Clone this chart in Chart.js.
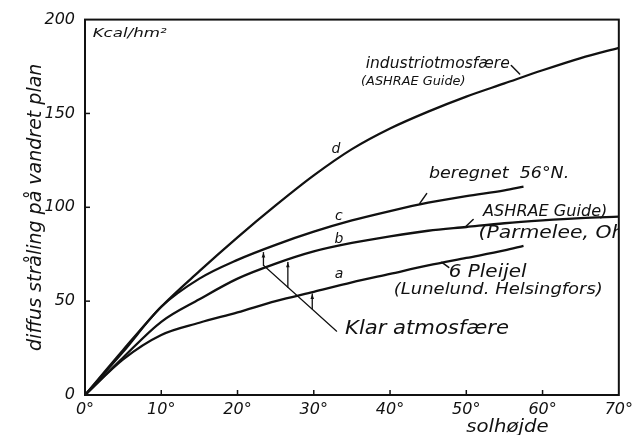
<!DOCTYPE html>
<html>
<head>
<meta charset="utf-8">
<script src="https://cdn.jsdelivr.net/npm/chart.js@4/dist/chart.umd.min.js"></script>
<style>
  html, body { margin: 0; padding: 0; background: #fff; }
  #wrap { width: 638px; height: 435px; position: relative; }
</style>
</head>
<body>
<div id="wrap"><canvas id="c"></canvas></div>
<script>
// ---- data ----
const solhoejde      = [0, 5, 10, 15, 20, 25, 30, 35, 40, 45, 50, 55, 60, 65, 70];
const solhoejdeKort  = [0, 5, 10, 15, 20, 25, 30, 35, 40, 45, 50, 55, 57.5];
const kurveD = [0, 24, 47, 66, 84, 101, 117, 131, 142, 151, 159, 166, 173, 179.5, 185]; // industriatmosfære
const kurveC = [0, 23, 47, 62, 72, 80, 87, 93, 98, 102.5, 106, 109, 111];              // beregnet 56°N
const kurveB = [0, 20, 39, 51, 62, 70, 76.5, 81, 84.5, 87.5, 89.5, 91.5, 93, 94.2, 95]; // ASHRAE Guide (Parmelee, Ohio)
const kurveA = [0, 19, 32, 38.5, 44, 50, 55, 60, 64.5, 69, 73, 77, 79.5];              // 6 Pleijel (Lunelund, Helsingfors)
const xTickVals   = [0, 10, 20, 30, 40, 50, 60, 70];
const xTickLabels = ['0°', '10°', '20°', '30°', '40°', '50°', '60°', '70°'];
const yTickVals   = [0, 50, 100, 150, 200];
const yTickLabels = ['0', '50', '100', '150', '200'];

const INK = '#111';
const FONT = '"DejaVu Sans", sans-serif';

function pts(xs, ys) { return ys.map((y, i) => ({ x: xs[i], y })); }

// annotations in data units (degrees, kcal)
const notes = [
  { text: 'Kcal/hm²', x: 1.0, y: 192.7, w: 9.7, size: 13 },
  { text: 'industriotmosfære', x: 36.8, y: 176.5, w: 18.9, size: 15 },
  { text: '(ASHRAE Guide)', x: 36.2, y: 167, w: 13.7, size: 13 },
  { text: 'd', x: 32.9, y: 131, size: 14 },
  { text: 'beregnet  56°N.', x: 45.1, y: 118, w: 18.4, size: 16 },
  { text: 'c', x: 33.3, y: 95.3, size: 14 },
  { text: 'b', x: 33.3, y: 82.7, size: 14 },
  { text: 'a', x: 33.3, y: 64.5, size: 14 },
  { text: 'ASHRAE Guide)', x: 52.2, y: 97.4, w: 16.3, size: 15 },
  { text: '(Parmelee, Ohio', x: 51.6, y: 85.9, w: 21.5, size: 17, clip: true },
  { text: '6 Pleijel', x: 47.7, y: 65, w: 10.2, size: 17 },
  { text: '(Lunelund. Helsingfors)', x: 40.5, y: 56, w: 27.4, size: 16 },
  { text: 'Klar atmosfære', x: 34.1, y: 35.1, w: 21.5, size: 19 }
];
const segs = [
  { from: [23.4, 69.1], to: [33.0, 34.0], width: 1.2 },
  { from: [55.9, 175.5], to: [57.0, 171.0], width: 1.5 },
  { from: [43.9, 102.1], to: [44.8, 107.3], width: 1.5 },
  { from: [50.0, 90.0], to: [50.9, 93.5], width: 1.5 },
  { from: [46.8, 70.7], to: [47.7, 68.0], width: 1.5 }
];
const arrows = [
  { x: 23.4, from: 69.1, to: 75.9 },
  { x: 26.6, from: 57.4, to: 70.7 },
  { x: 29.8, from: 46.0, to: 53.8 }
];

const annotPlugin = {
  id: 'annot',
  afterDatasetsDraw(chart) {
    const ctx = chart.ctx, xs = chart.scales.x, ys = chart.scales.y, ca = chart.chartArea;
    ctx.save();
    ctx.strokeStyle = INK; ctx.fillStyle = INK; ctx.lineCap = 'round';
    segs.forEach(s => {
      ctx.lineWidth = s.width;
      ctx.beginPath();
      ctx.moveTo(xs.getPixelForValue(s.from[0]), ys.getPixelForValue(s.from[1]));
      ctx.lineTo(xs.getPixelForValue(s.to[0]), ys.getPixelForValue(s.to[1]));
      ctx.stroke();
    });
    arrows.forEach(a => {
      const px = xs.getPixelForValue(a.x);
      const y0 = ys.getPixelForValue(a.from), y1 = ys.getPixelForValue(a.to);
      ctx.lineWidth = 1.3;
      ctx.beginPath(); ctx.moveTo(px, y0); ctx.lineTo(px, y1); ctx.stroke();
      ctx.beginPath(); ctx.moveTo(px, y1); ctx.lineTo(px - 1.8, y1 + 5); ctx.lineTo(px + 1.8, y1 + 5); ctx.closePath(); ctx.fill();
    });
    notes.forEach(n => {
      ctx.save();
      if (n.clip) { ctx.beginPath(); ctx.rect(ca.left, ca.top, ca.right - ca.left, ca.bottom - ca.top); ctx.clip(); }
      ctx.font = `italic ${n.size}px ${FONT}`;
      ctx.textBaseline = 'middle';
      const px = xs.getPixelForValue(n.x), py = ys.getPixelForValue(n.y);
      if (n.w) {
        const target = xs.getPixelForValue(n.x + n.w) - px;
        const m = ctx.measureText(n.text).width;
        ctx.translate(px, py); ctx.scale(target / m, 1);
        ctx.textAlign = 'left'; ctx.fillText(n.text, 0, 0);
      } else {
        ctx.textAlign = 'center'; ctx.fillText(n.text, px, py);
      }
      ctx.restore();
    });
    // x-axis title
    ctx.font = `italic 17px ${FONT}`;
    ctx.textBaseline = 'middle'; ctx.textAlign = 'left';
    {
      const px = xs.getPixelForValue(50.0), target = xs.getPixelForValue(60.8) - px;
      const m = ctx.measureText('solhøjde').width;
      ctx.save(); ctx.translate(px, ca.bottom + 33); ctx.scale(target / m, 1); ctx.fillText('solhøjde', 0, 0); ctx.restore();
    }
    // frame
    ctx.lineWidth = 2; ctx.lineCap = 'butt';
    ctx.strokeRect(ca.left, ca.top, ca.right - ca.left, ca.bottom - ca.top);
    // inward ticks
    ctx.lineWidth = 1.5;
    xTickVals.slice(1, -1).forEach(v => {
      const px = xs.getPixelForValue(v);
      ctx.beginPath(); ctx.moveTo(px, ca.bottom); ctx.lineTo(px, ca.bottom - 5); ctx.stroke();
    });
    yTickVals.slice(1, -1).forEach(v => {
      const py = ys.getPixelForValue(v);
      ctx.beginPath(); ctx.moveTo(ca.left, py); ctx.lineTo(ca.left + 5, py); ctx.stroke();
    });
    ctx.restore();
  }
};

function lineDs(label, xs, ys) {
  return {
    label, data: pts(xs, ys),
    borderColor: INK, borderWidth: 2.3, pointRadius: 0,
    cubicInterpolationMode: 'monotone', fill: false
  };
}

new Chart(document.getElementById('c'), {
  type: 'line',
  data: {
    datasets: [
      lineDs('d industriatmosfære', solhoejde, kurveD),
      lineDs('c beregnet 56°N', solhoejdeKort, kurveC),
      lineDs('b ASHRAE Guide', solhoejde, kurveB),
      lineDs('a 6 Pleijel', solhoejdeKort, kurveA)
    ]
  },
  options: {
    responsive: true, maintainAspectRatio: false, animation: false,
    layout: { padding: { top: 13, right: 17, left: 0, bottom: 0 }, autoPadding: false },
    plugins: { legend: { display: false }, tooltip: { enabled: false } },
    scales: {
      x: {
        type: 'linear', min: 0, max: 70,
        afterBuildTicks(s) { s.ticks = xTickVals.map(v => ({ value: v })); },
        afterFit(s) { s.height = 40; },
        grid: { display: false, drawTicks: false },
        border: { display: false },
        ticks: {
          autoSkip: false, maxRotation: 0, padding: 5, color: INK,
          font: { family: FONT, size: 16, style: 'italic' },
          callback: (v, i) => xTickLabels[i]
        }
      },
      y: {
        type: 'linear', min: 0, max: 200,
        afterBuildTicks(s) { s.ticks = yTickVals.map(v => ({ value: v })); },
        afterFit(s) { s.width = 85; },
        grid: { display: false, drawTicks: false },
        border: { display: false },
        ticks: {
          padding: 10, color: INK,
          font: { family: FONT, size: 16, style: 'italic' },
          callback: (v, i) => yTickLabels[i]
        },
        title: {
          display: true, text: 'diffus stråling på vandret plan', color: INK,
          font: { family: FONT, size: 19, style: 'italic' },
          padding: { top: 25, bottom: 0 }
        }
      }
    }
  },
  plugins: [annotPlugin]
});
</script>
</body>
</html>
